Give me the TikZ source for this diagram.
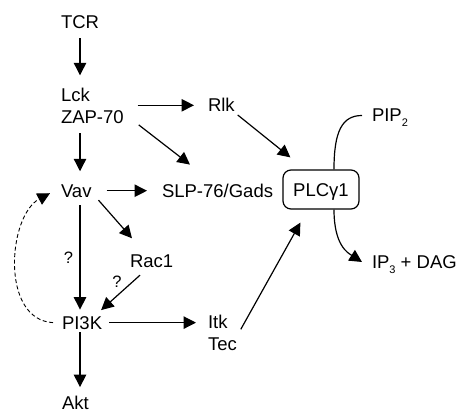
\documentclass[tikz,border=0pt]{standalone}
\usepackage{fontspec}
\setmainfont{Liberation Sans}
\usetikzlibrary{arrows.meta,calc}
% lowered small index, e.g. PIP_2
\newcommand\lowsub[1]{\raisebox{-5pt}{\fontsize{11}{11}\selectfont #1}}
\begin{document}
\begin{tikzpicture}[x=1pt,y=-1pt,
  lbl/.style={inner sep=0pt, outer sep=0pt, font=\fontsize{18.5}{22}\selectfont},
  stack/.style={lbl, align=left, anchor=north west},
  qmark/.style={inner sep=0pt, font=\fontsize{16.5}{16.5}\selectfont},
  arr/.style={line width=1.2pt, -{Triangle[length=12.5pt,width=12.5pt]}},
  dasharr/.style={line width=0.9pt, dash pattern=on 4pt off 2.5pt,
                  -{Triangle[length=12.5pt,width=12.5pt]}},
  enzyme/.style={draw, line width=1.2pt, rounded corners=8pt,
                 minimum width=76pt, minimum height=39pt, inner sep=0pt,
                 text height=13pt, text depth=0pt,
                 font=\fontsize{18.5}{22}\selectfont}]
\useasboundingbox (0,0) rectangle (461,412);

% labels
\node[lbl, anchor=base west] (tcr) at (61,29) {TCR};
\node[stack] (lck) at (61,88.3) {Lck\\ZAP-70};
\node[lbl, anchor=base west] (rlk) at (208,112) {Rlk};
\node[lbl, anchor=base west] (vav) at (61,197) {Vav};
\node[lbl, anchor=base west] (slp) at (162,197) {SLP-76/Gads};
\node[enzyme] (plc) at (321,189.5) {PLCγ1};
\node[lbl, anchor=base west] (pip) at (372,121.5) {PIP\lowsub{2}};
\node[lbl, anchor=base west] (ip3) at (372,268) {IP\lowsub{3} + DAG};
\node[lbl, anchor=base west] (rac) at (130,267) {Rac1};
\node[lbl, anchor=base west] (pik) at (62,329) {PI3K};
\node[stack] (itk) at (208,315.5) {Itk\\Tec};
\node[lbl, anchor=base west] (akt) at (62,409.5) {Akt};
\node[qmark] (q1) at (68.5,257.5) {?};
\node[qmark] (q2) at (117,281.5) {?};

% signalling arrows
\draw[arr] ($(tcr.south)+(0,9)$) -- ($(tcr.south |- lck.north)+(0,-13)$);
\draw[arr] ($(lck.east |- rlk.west)+(14,0)$) -- ($(rlk.west)+(-14,0)$);
\draw[arr] ($(lck.south east)+(15,1)$) -- ($(slp.north west)+(28,-19)$);
\draw[arr] ($(tcr.south |- lck.south)+(0,9.5)$) -- ($(tcr.south |- vav.north)+(0,-13)$);
\draw[arr] ($(vav.east)+(15,0)$) -- ($(vav.east -| slp.west)+(-15,0)$);
\draw[arr] ($(rlk.south east)+(3,3)$) -- ($(plc.north west)+(8,-12)$);
\draw[arr] ($(itk.east)+(4,-4)$) -- ($(plc.south west)+(18,13)$);
\draw[arr] ($(tcr.south |- vav.south)+(0,8)$) -- ($(tcr.south |- pik.north)+(0,-6.5)$);
\draw[arr] ($(vav.south east)+(7,3)$) -- ($(rac.north west)+(2,-16)$);
\draw[arr] ($(rac.south west)+(10,8)$) -- ($(pik.north east)+(-1,-6)$);
\draw[arr] ($(pik.east)+(7,0)$) -- ($(pik.east -| itk.west)+(-12,0)$);
\draw[arr] ($(tcr.south |- pik.south)+(0,3)$) -- ($(tcr.south |- akt.north)+(0,-9)$);

% PIP2 hydrolysis through PLCgamma1
\draw[line width=1.2pt] ($(plc.north)+(13,0)$)
  .. controls ($(plc.north)+(13,-38)$) and ($(pip.base west)+(-30,-6)$)
  .. ($(pip.base west)+(-10,-6)$);
\draw[arr] ($(plc.south)+(13,0)$)
  .. controls ($(plc.south)+(13,36)$) and ($(ip3.base west)+(-24,-15)$)
  .. ($(ip3.base west)+(-10,-6)$);

% feedback from PI3K to Vav
\draw[dasharr] ($(pik.west)+(-9,0)$)
  .. controls ($(pik.west)+(-62,-3)$) and ($(vav.west)+(-53,25)$)
  .. ($(vav.west)+(-11,2.5)$);
\end{tikzpicture}
\end{document}
